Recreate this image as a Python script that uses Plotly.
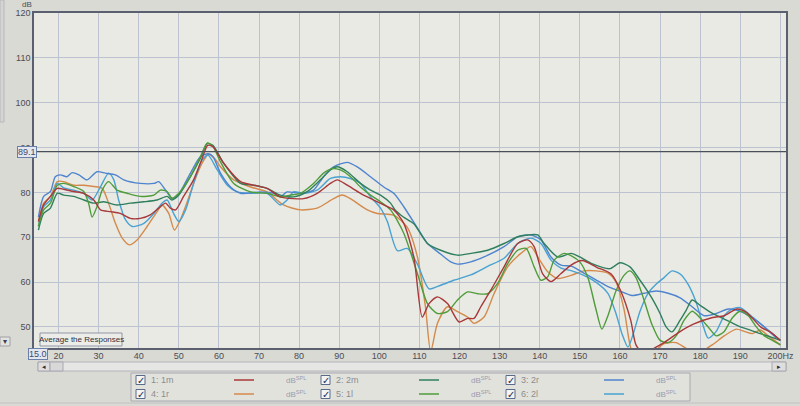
import plotly.graph_objects as go

# ---------------- data ----------------
names = ["1: 1m", "2: 2m", "3: 2r", "4: 1r", "5: 1l", "6: 2l"]
colors = ["#a8383a", "#2f7f5e", "#4f84cf", "#d48a4c", "#4e9c3a", "#49a2d2"]

freq_1 = [15, 16.3, 18, 19.7, 21.3, 23.8, 26.3, 28.8, 30.5, 33, 35.4, 37.9, 40.4, 42.9, 45, 46.7, 47.9, 49.2,
          51.2, 53.7, 55.8, 57.2, 58.5, 61.2, 65.4, 68.7, 72, 75.3, 78.6, 81.1, 84.5, 87.8, 89.5, 92, 95.3,
          98.6, 101.1, 103.6, 106.1, 108.6, 110.7, 112.4, 114.5, 117, 119.9, 122, 123.6, 125.3, 127.8, 131.1,
          134.5, 137, 138.6, 140.7, 142.8, 145.3, 147.8, 150.6, 154.2, 157.8, 160.2, 162.7, 164, 166, 169, 171,
          174.7, 178.3, 183.1, 186, 189.2, 191.6, 195.2, 197.6, 200]
db_1 = [73.5, 77.2, 79.1, 80.9, 80.7, 80.2, 79.8, 78.3, 76.1, 75.7, 75.3, 74.2, 74.2, 75, 76.5, 77.6, 76.5, 76.1,
        79.1, 82.8, 87.5, 90.5, 90.2, 86.5, 82.4, 81.6, 80.9, 79, 78.6, 78.6, 79.8, 82, 82.8, 81.6, 79.8,
        78.3, 77.2, 76.1, 73.1, 65.6, 52.2, 55.2, 56.7, 55.2, 51.1, 51.9, 51.9, 54.5, 58.2, 63.4,
        68.6, 69.4, 67.9, 61.9, 60.1, 61.9, 63.8, 64.8, 63.3, 61.8, 58, 51.4, 46, 44, 45.5, 46.5,
        48.8, 50.6, 52.1, 52.5, 54, 53.2, 49.9, 48.8, 47]

freq_2 = [15, 16.3, 18, 19.7, 21.3, 23.8, 26.3, 28.8, 31.3, 34.6, 37.9, 41.3, 44.6, 47.1, 48.3, 50, 52.9, 55.4,
          57.1, 58.5, 61.2, 65.4, 68.7, 72, 75.3, 78.6, 81.9, 85.3, 87.8, 89.5, 92, 95.3, 97.8, 100.3, 102.8,
          104, 106, 108.6, 112, 115.3, 119.5, 122.8, 127, 131.1, 134.5, 137, 139.5, 141.1, 144.5, 147.8, 150,
          153, 157.5, 160, 162.5, 165, 167, 168.5, 170, 171.5, 173, 175, 176.5, 178, 180, 182.5, 185, 187.5,
          190, 192.5, 195, 197.5, 200]
db_2 = [71.6, 75.3, 76.5, 79.8, 79.4, 79.1, 78.3, 77.6, 77.9, 77.2, 77.6, 77.9, 78.3, 79.1, 78.3, 79.4, 83.5, 87.6,
        90.9, 90.5, 86.5, 82, 81.6, 80.9, 79.4, 79, 80.1, 82.8, 85, 85.7, 84.6, 82, 80.5, 79.4, 77.6,
        76, 74.5, 73, 68.6, 67.1, 66, 66.4, 67.1, 68.6, 70.1, 70.5, 70.5, 68.6, 65.6, 66.4, 65.6,
        64.1, 63, 64.3, 63.4, 60.4, 57.8, 55.6, 53, 50, 48.9, 51.5, 53.7, 56, 54.8, 53.3, 52.2, 51.1,
        50, 49.3, 48.5, 47.8, 47]

freq_3 = [15, 16.3, 18, 19.2, 20.5, 22.1, 23.4, 25.1, 27.1, 29.6, 31.7, 34.2, 36.3, 40.4, 43.8, 45, 46.7, 48.3,
          49.6, 52.9, 55.4, 57.3, 58.5, 60.4, 62.9, 65.4, 70.4, 73.7, 75.3, 77, 80.3, 83.6, 86.1, 88.6, 92,
          94.5, 97.8, 101.1, 103.6, 106.1, 110.3, 112, 114.5, 117.8, 119.5, 122.8, 126.1, 131.1, 134.5, 137.8,
          140.3, 142.8, 145.3, 148, 151, 154, 157, 160, 163, 166, 169, 172, 175, 178, 181, 184, 187, 190, 193,
          196, 199]
db_3 = [74.5, 79.1, 80.2, 83.5, 83.9, 83.5, 84.4, 83.9, 82.8, 84.6, 84.3, 83.9, 82.8, 82, 82, 82.4, 80.5, 78.7,
        79.1, 84.3, 88, 88.6, 88, 84.3, 81.2, 79.8, 80.1, 79.8, 79, 80.1, 79.8, 80.5, 83.5, 85.7, 86.7,
        85.7, 83.5, 81.2, 79.8, 76.8, 70.9, 68.6, 66.8, 64.5, 64, 64.5, 65.6, 67.9, 70.1, 70.5,
        69.4, 65.6, 63.8, 63.5, 62, 60.5, 59, 58, 57, 57.5, 58, 57.5, 56.5, 54.5, 52.5, 53, 54, 53.5, 52,
        50, 47.5]

freq_4 = [15, 16.3, 18, 19.7, 21.3, 23.8, 26.3, 28.8, 30.9, 32.5, 34.2, 35.9, 37.7, 39.6, 42.1, 44.6, 45.8, 47.5,
          48.9, 50.4, 52, 53.7, 55.8, 57.4, 59, 60.4, 63.7, 67.9, 72, 76.1, 80.3, 84.5, 88.6, 90.7, 92.8, 97,
          99.5, 103.6, 106.9, 109.5, 111.5, 112.8, 114.5, 117, 119.5, 122, 123.6, 126.1, 128.6, 132, 135.3,
          137.8, 139.5, 142, 144.5, 147.8, 151, 154, 157, 159, 161, 162.5, 164, 168, 171, 174, 176, 179, 183,
          186, 189, 191, 193, 195, 197, 200]
db_4 = [73.5, 77.6, 79.1, 82.4, 82.4, 81.6, 81.6, 81.3, 80.9, 77.6, 73.1, 69.8, 68.3, 69.4, 72.4, 75.7, 77.2, 75.3,
        71.6, 73.9, 77.6, 82, 86.5, 88.5, 87.5, 85.7, 82.8, 81.2, 80.1, 77.2, 76.1, 76.5, 78.6, 79.4, 78.6, 76.1,
        75.3, 74.9, 72.3, 65.6, 54.5, 44.5, 50.8, 54.5, 53.4, 52.2, 50.8, 52.2, 57.4, 63.4, 66.4,
        67.9, 65.6, 62.3, 60.8, 61.5, 62.5, 62.5, 62, 60, 54, 46, 42, 44, 46.3, 46.5, 45.5, 44, 46,
        48, 49.5, 49, 48.5, 49.3, 48, 46]

freq_5 = [15, 16.3, 18, 19.7, 21.3, 23.8, 26.3, 27.5, 28.4, 29.6, 30.9, 32.5, 34.6, 37.1, 40.4, 43.8, 45.4, 47.1,
          48.3, 50, 52.9, 55.4, 57.1, 58.5, 60.4, 63.7, 67.9, 72, 75.3, 77.8, 80.3, 83.6, 86.1, 88.2, 90.3, 92.8,
          95.3, 97.8, 100.3, 102.8, 106.1, 109.5, 112, 114.5, 117, 119.5, 122, 124.5, 127, 129.5, 132, 134.5,
          136.6, 138.6, 140.3, 142, 143.6, 146.1, 148, 150, 152, 154, 155.5, 157, 159, 161, 162.5, 164, 166,
          168, 170, 172, 174, 176, 178, 180, 182, 184, 186, 188, 190, 192, 194, 196, 198, 200]
db_5 = [72.5, 76.1, 77.6, 81.6, 82, 81.3, 80.2, 77.6, 74.5, 76.8, 80.5, 82.4, 80.5, 79.8, 79.1, 79.4, 80.5, 80.2,
        78.7, 79.8, 83.5, 88, 91, 90.3, 86.8, 82, 80.1, 79.8, 79, 79.4, 79.8, 82, 84.3, 85.3, 85, 83.5,
        81.2, 79.4, 77.9, 76.1, 70.9, 61.9, 55.2, 53, 53.4, 56, 57.8, 57.4, 57.4, 59.7, 64.1, 67.1,
        67.5, 63.4, 60.4, 61.2, 64.9, 66.4, 65.8, 64.5, 61, 54, 49.5, 52.5, 58, 61.5, 62.5, 61, 56,
        50.5, 47, 46.5, 48, 51.5, 53.5, 52, 50, 48, 49, 52, 53.5, 52.5, 50, 48, 47, 46]

freq_6 = [15, 16.3, 18, 19.7, 21.3, 23.8, 26.3, 28.4, 30.5, 32.5, 33.8, 35, 36.7, 38.4, 41.3, 43.8, 45.8, 47.1,
          48.7, 50, 51.7, 53.7, 55.8, 57.3, 59.6, 62.1, 64.6, 67.9, 72, 75.3, 77, 78.6, 81.1, 84.5, 87.8, 90.3,
          92.8, 95.3, 97.8, 100.3, 102, 104.5, 107, 109.5, 112.4, 115.3, 118.6, 122.8, 127, 131.1, 134.5,
          137.8, 140.3, 142.8, 145.3, 148, 151, 154, 157, 159, 160.5, 162, 163.5, 165, 167, 169, 171, 173,
          175, 177, 179, 180.5, 182, 184, 186, 188, 190, 192, 194, 196, 198, 200]
db_6 = [72.4, 76.8, 78.3, 82, 81, 80.5, 79.8, 78.3, 81.3, 84.3, 82.8, 78.3, 73.9, 72.4, 73.1, 75.3, 77.6, 78.3,
        75.3, 73.5, 76.1, 82, 87.2, 88.3, 85, 81.6, 80.1, 79.8, 79.8, 77.2, 78.3, 80.1, 79.8, 80.5, 83.1, 83.5,
        83.1, 82, 79, 76.5, 73.5, 67, 67.5, 64, 58.5, 59.3, 60.4, 61.6, 63.5, 65.3, 68.6,
        69.8, 68.6, 64.9, 63.1, 62.5, 61.5, 60, 57.5, 53, 48.5, 45.5, 49, 53.5, 57.5, 59.5, 61, 62.5,
        61.8, 59.5, 55.5, 51, 47.5, 49, 52.5, 54, 54.3, 53, 51.5, 50, 48.5, 47]

series_freq = [freq_1, freq_2, freq_3, freq_4, freq_5, freq_6]
series_db = [db_1, db_2, db_3, db_4, db_5, db_6]

x_ticks = [20, 30, 40, 50, 60, 70, 80, 90, 100, 110, 120, 130, 140, 150, 160, 170, 180, 190, 200]
x_tick_text = [str(v) for v in x_ticks[:-1]] + ["200Hz"]
y_ticks = [50, 60, 70, 80, 90, 100, 110, 120]
x_range = [13.9, 201.4]
y_range = [45.3, 120]
ref_level = 89.1
x_start_label = "15.0"

# ---------------- layout geometry ----------------
W, H = 800, 406
ML, MR, MT, MB = 34, 14, 13, 58
PW, PH = W - ML - MR, H - MT - MB


def px(x):
    return (x - ML) / PW


def py(y):
    return (H - MB - y) / PH


FONT = "Liberation Sans, Arial, sans-serif"
TXT = "#4c4c54"


def note(x, y, text, size=9, color=TXT, family=FONT, xanchor="center", **kw):
    d = dict(xref="paper", yref="paper", x=px(x), y=py(y), text=text, showarrow=False,
             xanchor=xanchor, yanchor="middle", font=dict(family=family, size=size, color=color))
    d.update(kw)
    return d


fig = go.Figure()
for i in [3, 5, 2, 1, 4, 0]:
    fig.add_trace(go.Scatter(
        x=series_freq[i], y=series_db[i], mode="lines", name=names[i],
        line=dict(color=colors[i], width=1.4, shape="spline", smoothing=0.7),
        showlegend=False, hoverinfo="skip"))

shapes = []
annotations = []

# reference level line and its boxed label
shapes.append(dict(type="line", xref="paper", yref="y", x0=0, x1=1, y0=ref_level, y1=ref_level,
                   line=dict(color="#4a5058", width=1.3), layer="above"))
annotations.append(dict(xref="paper", yref="y", x=px(26.5), y=ref_level, text=f"{ref_level:.1f}",
                        showarrow=False, xanchor="center", yanchor="middle",
                        font=dict(family=FONT, size=9, color="#3a4a70"),
                        bgcolor="#e4e8ee", bordercolor="#6a80aa", borderwidth=1, borderpad=0))

# dB unit label
annotations.append(note(27, 4, "dB", size=8))

# 15.0 boxed start label
annotations.append(dict(xref="x", yref="paper", x=15, y=py(354), text=x_start_label, showarrow=False,
                        xanchor="center", yanchor="middle",
                        font=dict(family=FONT, size=9, color="#3a4a70"),
                        bgcolor="#e4e8ee", bordercolor="#6a80aa", borderwidth=1, borderpad=0))

# Average the Responses button
shapes.append(dict(type="rect", xref="paper", yref="paper", x0=px(40), x1=px(122), y0=py(346), y1=py(333),
                   line=dict(color="#9098a8", width=1), fillcolor="#ecece8", layer="above"))
annotations.append(note(81, 339.5, "Average the Responses", size=8, color="#303038"))

# left side panel bits
shapes.append(dict(type="rect", xref="paper", yref="paper", x0=px(0), x1=px(4), y0=py(122), y1=py(0),
                   line=dict(color="#b8b8bc", width=1), fillcolor="#d4d4d2"))
shapes.append(dict(type="rect", xref="paper", yref="paper", x0=px(0), x1=px(10), y0=py(346), y1=py(337),
                   line=dict(color="#a0a0a8", width=1), fillcolor="#e2e2e0"))
annotations.append(note(5, 341.5, "▾", size=8, color="#404048", family="DejaVu Sans"))

# horizontal scrollbar
SB0, SB1 = 362, 371
shapes.append(dict(type="rect", xref="paper", yref="paper", x0=px(38), x1=px(786), y0=py(SB1), y1=py(SB0),
                   line=dict(color="#b4b4ba", width=1), fillcolor="#e6e6e4"))
shapes.append(dict(type="rect", xref="paper", yref="paper", x0=px(38), x1=px(50), y0=py(SB1), y1=py(SB0),
                   line=dict(color="#a8a8b0", width=1), fillcolor="#dedede"))
shapes.append(dict(type="rect", xref="paper", yref="paper", x0=px(50), x1=px(63), y0=py(SB1), y1=py(SB0),
                   line=dict(color="#a8a8b0", width=1), fillcolor="#d8d8d8"))
shapes.append(dict(type="rect", xref="paper", yref="paper", x0=px(772), x1=px(786), y0=py(SB1), y1=py(SB0),
                   line=dict(color="#a8a8b0", width=1), fillcolor="#dedede"))
annotations.append(note(44, 366.5, "◂", size=7, color="#303038", family="DejaVu Sans"))
annotations.append(note(779, 366.5, "▸", size=7, color="#303038", family="DejaVu Sans"))

# bottom separator
shapes.append(dict(type="line", xref="paper", yref="paper", x0=px(0), x1=px(800), y0=py(403), y1=py(403),
                   line=dict(color="#c0c0c4", width=1)))

# legend panel (built from the series names / colours)
shapes.append(dict(type="rect", xref="paper", yref="paper", x0=px(131), x1=px(690), y0=py(401), y1=py(373),
                   line=dict(color="#a8a8b2", width=1), fillcolor="#e2e2dc"))
col_x = [136, 321, 506]
row_y = [380, 394]
for i, nm in enumerate(names):
    r, c = divmod(i, 3)
    cx, cy = col_x[c], row_y[r]
    shapes.append(dict(type="rect", xref="paper", yref="paper", x0=px(cx), x1=px(cx + 9),
                       y0=py(cy + 4.5), y1=py(cy - 4.5), line=dict(color="#5a6a8a", width=1),
                       fillcolor="#f4f4f2"))
    annotations.append(note(cx + 4.5, cy, "✓", size=10, color="#1c2c5c", family="DejaVu Sans"))
    annotations.append(note(cx + 13, cy, nm, size=9, color="#8c8c90", xanchor="left"))
    shapes.append(dict(type="line", xref="paper", yref="paper", x0=px(cx + 98), x1=px(cx + 118),
                       y0=py(cy), y1=py(cy), line=dict(color=colors[i], width=1.5)))
    annotations.append(note(cx + 148, cy, "dB<sup>SPL</sup>", size=8, color="#9a9cb0", xanchor="left"))

fig.update_layout(
    width=W, height=H,
    margin=dict(l=ML, r=MR, t=MT, b=MB, pad=0),
    paper_bgcolor="#d9dad4",
    plot_bgcolor="#e9eae3",
    shapes=shapes,
    annotations=annotations,
    showlegend=False,
    xaxis=dict(range=x_range, tickvals=x_ticks, ticktext=x_tick_text, showgrid=True,
               gridcolor="#bcc2cf", gridwidth=1, showline=True, mirror=True, linecolor="#5a6070",
               linewidth=1.5, ticks="", zeroline=False, automargin=False, ticklabelstandoff=-2,
               tickfont=dict(family=FONT, size=9, color=TXT)),
    yaxis=dict(range=y_range, tickvals=y_ticks, showgrid=True, gridcolor="#bcc2cf", gridwidth=1,
               showline=True, mirror=True, linecolor="#5a6070", linewidth=1.5, ticks="",
               zeroline=False, automargin=False, tickfont=dict(family=FONT, size=9, color=TXT)),
)

fig.write_html("out.html", config={"displayModeBar": False},
               post_script="document.body.style.margin='0';")
